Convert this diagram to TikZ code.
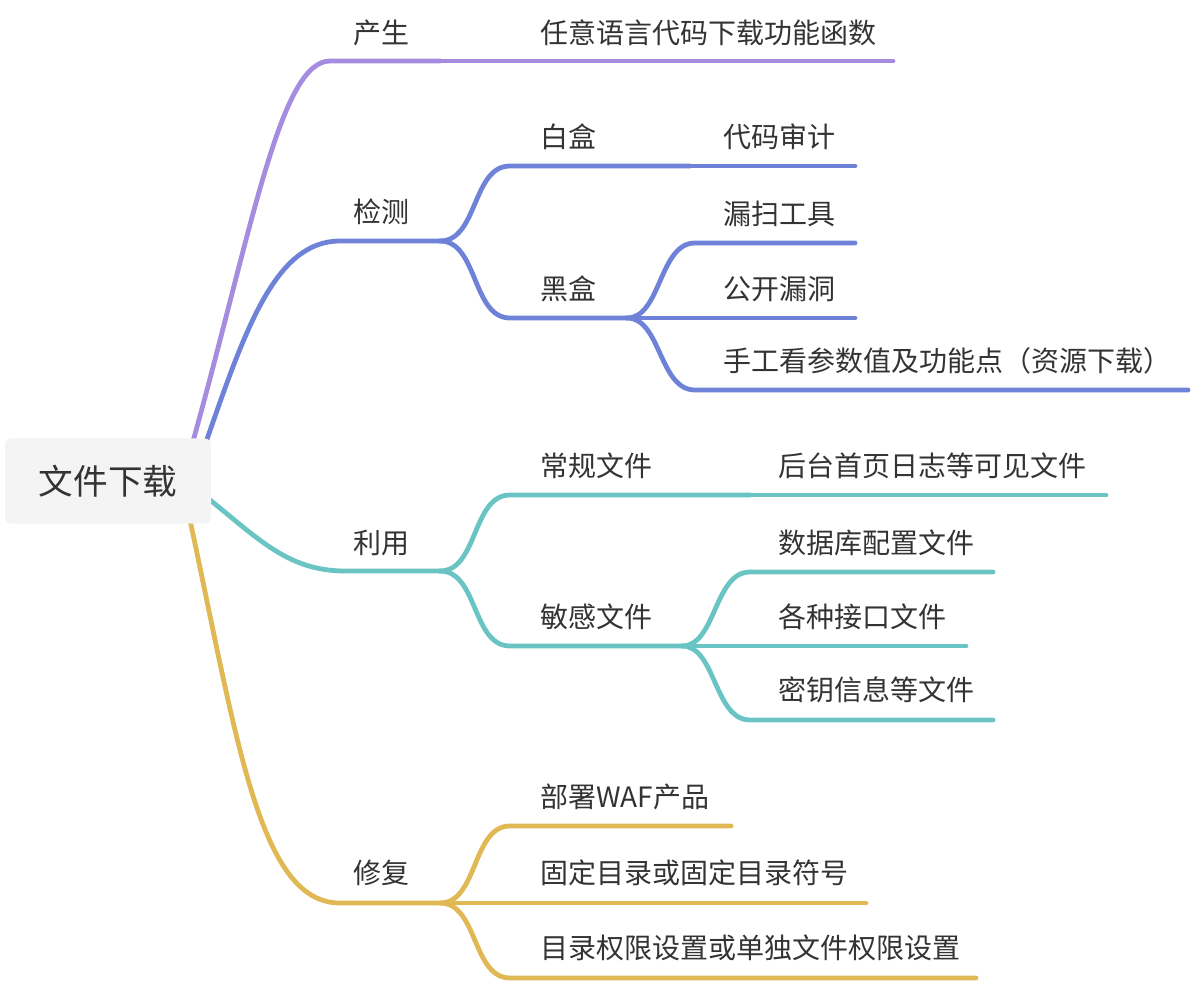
\documentclass[tikz,border=0pt]{standalone}
\usepackage{fontspec}
\setmainfont{Noto Sans CJK SC}
\usetikzlibrary{positioning}
\definecolor{cPurple}{HTML}{A58CDE}
\definecolor{cBlue}{HTML}{6E82D8}
\definecolor{cTeal}{HTML}{6AC4C4}
\definecolor{cGold}{HTML}{E0B854}
\definecolor{cText}{HTML}{333333}
\definecolor{cRoot}{HTML}{F4F4F4}
\tikzset{
  branch/.style={line width=3.6pt, line cap=round},
  topic/.style={anchor=west, inner sep=0pt, text=cText, font=\fontsize{21}{24}\selectfont},
  rootbox/.style={fill=cRoot, rounded corners=5pt, minimum width=154.5pt, minimum height=64pt,
    inner sep=0pt, text=cText, font=\fontsize{26}{30}\selectfont},
}

\begin{document}
\begin{tikzpicture}[x=0.75pt, y=-0.75pt]
        \useasboundingbox (0,0) rectangle (1192,984);
        % level one
        \coordinate (r1) at (192,445);
        \coordinate (r2) at (205,445);
        \coordinate (r3) at (200,492);
        \coordinate (r4) at (190,520);
        \coordinate (chan-s) at (330,61);  \coordinate (chan-e) at (440,61);
        \coordinate (jian-s) at (340,241); \coordinate (jian-e) at (440,241);
        \coordinate (li-s) at (345,571);   \coordinate (li-e) at (440,571);
        \coordinate (xiu-s) at (340,903);  \coordinate (xiu-e) at (440,903);
        \node[topic] (chansheng) at (353,33) {产生};
        \node[topic] (jiance) at (353,212) {检测};
        \node[topic] (liyong) at (353,543) {利用};
        \node[topic] (xiufu) at (353,873) {修复};
        % level two
        \coordinate (ren-s) at (440,61);   \coordinate (ren-e) at (893,61);
        \coordinate (bai-s) at (510,166);  \coordinate (bai-e) at (690,166);
        \coordinate (hei-s) at (510,318);  \coordinate (hei-e) at (627,318);
        \coordinate (chang-s) at (510,495); \coordinate (chang-e) at (750,495);
        \coordinate (min-s) at (510,646);  \coordinate (min-e) at (682,646);
        \coordinate (bu-s) at (510,826);   \coordinate (bu-e) at (731,826);
        \coordinate (gu-s) at (510,903);   \coordinate (gu-e) at (866,903);
        \coordinate (mu-s) at (510,978);   \coordinate (mu-e) at (976,978);
        \node[topic] (renyi) at (540,33) {任意语言代码下载功能函数};
        \node[topic] (baihe) at (540,137) {白盒};
        \node[topic] (heihe) at (540,289) {黑盒};
        \node[topic] (changgui) at (540,466) {常规文件};
        \node[topic] (mingan) at (540,617) {敏感文件};
        \node[topic] (bushu) at (540,797) {部署WAF产品};
        \node[topic] (guding) at (540,873) {固定目录或固定目录符号};
        \node[topic] (mulu) at (540,948) {目录权限设置或单独文件权限设置};
        % level three
        \coordinate (dai-s) at (690,166);  \coordinate (dai-e) at (855,166);
        \coordinate (lou-s) at (695,243);  \coordinate (lou-e) at (855,243);
        \coordinate (gong-s) at (695,318); \coordinate (gong-e) at (855,318);
        \coordinate (shou-s) at (695,390); \coordinate (shou-e) at (1188,390);
        \coordinate (hou-s) at (750,495);  \coordinate (hou-e) at (1106,495);
        \coordinate (shu-s) at (750,572);  \coordinate (shu-e) at (993,572);
        \coordinate (ge-s) at (750,646);   \coordinate (ge-e) at (966,646);
        \coordinate (mi-s) at (750,720);   \coordinate (mi-e) at (993,720);
        \node[topic] (daima) at (723,137) {代码审计};
        \node[topic] (lousao) at (723,214) {漏扫工具};
        \node[topic] (gongkai) at (723,289) {公开漏洞};
        \node[topic] (shougong) at (723,361) {手工看参数值及功能点（资源下载）};
        \node[topic] (houtai) at (778,466) {后台首页日志等可见文件};
        \node[topic] (shuju) at (778,543) {数据库配置文件};
        \node[topic] (gezhong) at (778,617) {各种接口文件};
        \node[topic] (miyao) at (778,690) {密钥信息等文件};

        % branches from the root
        \draw[branch, cPurple] (r1) .. controls (252,230) and (280,61) .. (chan-s) -- (chan-e);
        \draw[branch, cBlue] (r2) .. controls (245,330) and (275,241) .. (jian-s) -- (jian-e);
        \draw[branch, cTeal] (r3) .. controls (255,535) and (285,571) .. (li-s) -- (li-e);
        \draw[branch, cGold] (r4) .. controls (238,745) and (260,903) .. (xiu-s) -- (xiu-e);

        % 产生
        \draw[branch, cPurple] (chan-e) -- (ren-s) -- (ren-e);
        % 检测
        \draw[branch, cBlue] (jian-e) .. controls +(38,0) and +(-38,0) .. (bai-s) -- (bai-e);
        \draw[branch, cBlue] (jian-e) .. controls +(38,0) and +(-38,0) .. (hei-s) -- (hei-e);
        \draw[branch, cBlue] (bai-e) -- (dai-s) -- (dai-e);
        \foreach \c in {lou, gong, shou}
            \draw[branch, cBlue] (hei-e) .. controls +(34,0) and +(-36,0) .. (\c-s) -- (\c-e);
        % 利用
        \draw[branch, cTeal] (li-e) .. controls +(38,0) and +(-38,0) .. (chang-s) -- (chang-e);
        \draw[branch, cTeal] (li-e) .. controls +(38,0) and +(-38,0) .. (min-s) -- (min-e);
        \draw[branch, cTeal] (chang-e) -- (hou-s) -- (hou-e);
        \foreach \c in {shu, ge, mi}
            \draw[branch, cTeal] (min-e) .. controls +(34,0) and +(-36,0) .. (\c-s) -- (\c-e);
        % 修复
        \foreach \c in {bu, gu, mu}
            \draw[branch, cGold] (xiu-e) .. controls +(38,0) and +(-38,0) .. (\c-s) -- (\c-e);

        \node[rootbox] (root) at (108,481) {文件下载};
    \end{tikzpicture}
\end{document}
